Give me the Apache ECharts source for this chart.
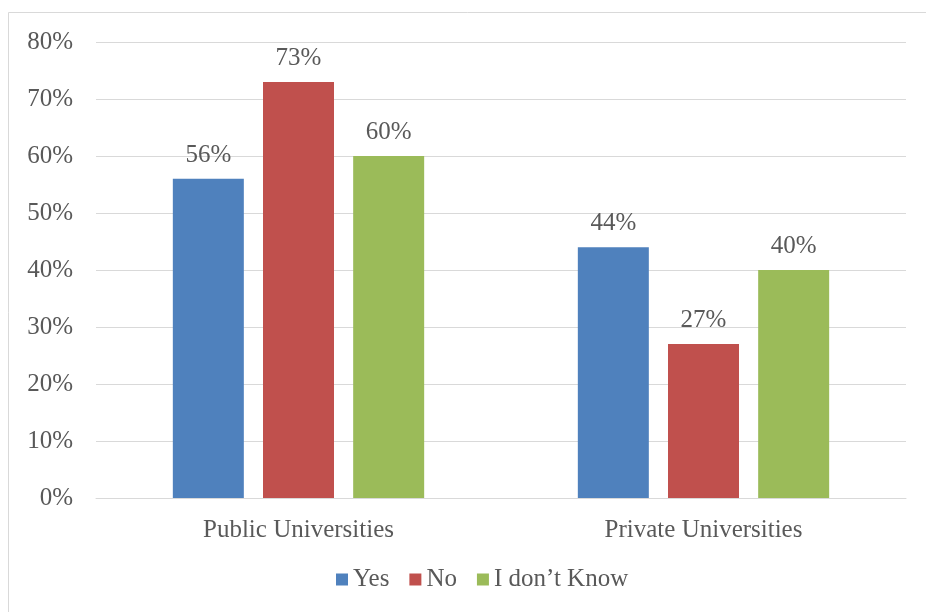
<!DOCTYPE html>
<html>
<head>
<meta charset="utf-8">
<script src="https://cdn.jsdelivr.net/npm/echarts@6/dist/echarts.min.js"></script>
<style>
  html, body { margin: 0; padding: 0; background: #fff; }
  #main { width: 926px; height: 612px; }
</style>
</head>
<body>
<div id="main"></div>
<script>
// data
const categories = ['Public Universities', 'Private Universities'];
const seriesNames = ['Yes', 'No', 'I don\u2019t Know'];
const yesValues = [56, 44];
const noValues = [73, 27];
const dontKnowValues = [60, 40];
const colors = ['#4F81BD', '#C0504D', '#9BBB59'];

const font = 'Liberation Serif';
const textColor = '#595959';

const chart = echarts.init(document.getElementById('main'));

function makeSeries(name, values, color) {
  return {
    name: name,
    type: 'bar',
    data: values,
    barWidth: 71,
    barGap: '27%',
    itemStyle: { color: color },
    label: {
      show: true,
      position: 'top',
      distance: 11,
      formatter: '{c}%',
      color: textColor,
      fontFamily: font,
      fontSize: 25
    }
  };
}

const option = {
  animation: false,
  backgroundColor: '#fff',
  graphic: [{
    type: 'rect',
    shape: { x: 8.5, y: 12.5, width: 1000, height: 700 },
    style: { fill: 'none', stroke: '#d9d9d9', lineWidth: 1 },
    silent: true
  }],
  grid: { left: 96, right: 20, top: 42, bottom: 114, containLabel: false },
  legend: {
    bottom: 15,
    left: 331,
    itemWidth: 12,
    itemHeight: 12,
    itemGap: 20,
    icon: 'rect',
    textStyle: { color: textColor, fontFamily: font, fontSize: 25 },
    data: seriesNames
  },
  xAxis: {
    type: 'category',
    data: categories,
    axisTick: { show: false },
    axisLine: { lineStyle: { color: '#d9d9d9', width: 1 } },
    axisLabel: { color: textColor, fontFamily: font, fontSize: 25, margin: 20 }
  },
  yAxis: {
    type: 'value',
    min: 0,
    max: 80,
    interval: 10,
    axisLine: { show: false },
    axisTick: { show: false },
    splitLine: { lineStyle: { color: '#d9d9d9', width: 1 } },
    axisLabel: {
      color: textColor, fontFamily: font, fontSize: 25, margin: 23,
      formatter: '{value}%'
    }
  },
  series: [
    makeSeries(seriesNames[0], yesValues, colors[0]),
    makeSeries(seriesNames[1], noValues, colors[1]),
    makeSeries(seriesNames[2], dontKnowValues, colors[2])
  ]
};

chart.setOption(option);
</script>
</body>
</html>
